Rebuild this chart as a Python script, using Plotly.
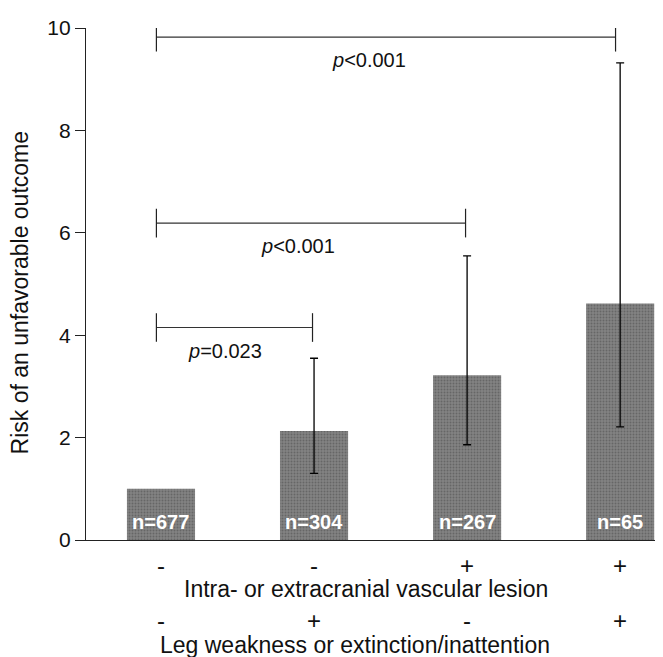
import plotly.graph_objects as go

# ---- data ----
groups = [0, 1, 2, 3]
risk = [1.0, 2.13, 3.22, 4.62]
ci_upper = [None, 3.55, 5.55, 9.32]
ci_lower = [None, 1.30, 1.86, 2.21]
n_labels = ["n=677", "n=304", "n=267", "n=65"]
lesion_signs = ["-", "-", "+", "+"]
leg_signs = ["-", "+", "-", "+"]
comparisons = [(0, 1, 4.15, "<i>p</i>=0.023"),
               (0, 2, 6.19, "<i>p</i>&lt;0.001"),
               (0, 3, 9.82, "<i>p</i>&lt;0.001")]
label_x = [0.415, 0.895, 1.36]
y_ticks = [0, 2, 4, 6, 8, 10]

err_plus = [(u - v) if u is not None else None for u, v in zip(ci_upper, risk)]
err_minus = [(v - l) if l is not None else None for l, v in zip(ci_lower, risk)]

FONT = "Liberation Sans, Arial, sans-serif"

fig = go.Figure()
fig.add_trace(go.Bar(
    x=groups, y=risk, width=0.445,
    marker=dict(color="#747474", line=dict(width=0),
                pattern=dict(shape=".", fgcolor="#4a4a4a", bgcolor="#838383",
                             size=3, solidity=0.35)),
    showlegend=False, hoverinfo="skip",
))
# error bars (only where a CI exists)
eg = [g for g, u in zip(groups, ci_upper) if u is not None]
fig.add_trace(go.Scatter(
    x=eg, y=[r for r, u in zip(risk, ci_upper) if u is not None],
    mode="markers", marker=dict(size=0.1, color="rgba(0,0,0,0)"),
    error_y=dict(type="data", symmetric=False,
                 array=[e for e in err_plus if e is not None],
                 arrayminus=[e for e in err_minus if e is not None],
                 color="black", thickness=1.3, width=4),
    showlegend=False, hoverinfo="skip",
))

shapes = []
annotations = []
for (a, b, h, label), lx in zip(comparisons, label_x):
    xa = a - 0.03
    xb = b - 0.01 if b < 3 else b - 0.03
    shapes.append(dict(type="line", xref="x", yref="y", x0=xa, x1=xb, y0=h, y1=h,
                       line=dict(color="#333", width=1.2)))
    for xx in (xa, xb):
        shapes.append(dict(type="line", xref="x", yref="y", x0=xx, x1=xx,
                           y0=h - 0.28, y1=h + 0.28, line=dict(color="#222", width=1.2)))
    annotations.append(dict(x=lx, y=h, xref="x", yref="y", yshift=-23,
                            text=label, showarrow=False,
                            font=dict(family=FONT, size=20, color="#111")))

for g, nl, s1, s2 in zip(groups, n_labels, lesion_signs, leg_signs):
    annotations.append(dict(x=g, y=0, xref="x", yref="y", yanchor="bottom", yshift=5,
                            text="<b>" + nl + "</b>", showarrow=False,
                            font=dict(family=FONT, size=20, color="white")))
    annotations.append(dict(x=g, y=0, xref="x", yref="y", yshift=-25, height=20,
                            text=s1, showarrow=False,
                            font=dict(family=FONT, size=24, color="#111")))
    annotations.append(dict(x=g, y=0, xref="x", yref="y", yshift=-80, height=20,
                            text=s2, showarrow=False,
                            font=dict(family=FONT, size=24, color="#111")))

annotations.append(dict(x=1.34, y=0, xref="x", yref="y", yshift=-49,
                        text="Intra- or extracranial vascular lesion", showarrow=False,
                        font=dict(family=FONT, size=23, color="#111")))
annotations.append(dict(x=1.265, y=0, xref="x", yref="y", yshift=-105,
                        text="Leg weakness or extinction/inattention", showarrow=False,
                        font=dict(family=FONT, size=23, color="#111")))
annotations.append(dict(x=0, y=0.4816, xref="paper", yref="paper", xshift=-66,
                        xanchor="center", yanchor="middle", textangle=-90,
                        text="Risk of an unfavorable outcome", showarrow=False,
                        font=dict(family=FONT, size=23, color="#111")))

fig.update_layout(
    width=663, height=657,
    margin=dict(l=78, r=8, t=15, b=125),
    plot_bgcolor="white", paper_bgcolor="white",
    font=dict(family=FONT, size=21, color="#111"),
    shapes=shapes, annotations=annotations,
    xaxis=dict(range=[-0.49, 3.28], showticklabels=False, ticks="",
               showline=True, linecolor="#222", linewidth=1.3, showgrid=False,
               zeroline=False),
    yaxis=dict(range=[0, 10], tickvals=y_ticks, ticks="outside", ticklen=10,
               tickcolor="#222", tickwidth=1.3, showline=True, linecolor="#222",
               linewidth=1.3, showgrid=False, zeroline=False,
               tickfont=dict(family=FONT, size=21, color="#111")),
)

fig.write_html("out.html")
